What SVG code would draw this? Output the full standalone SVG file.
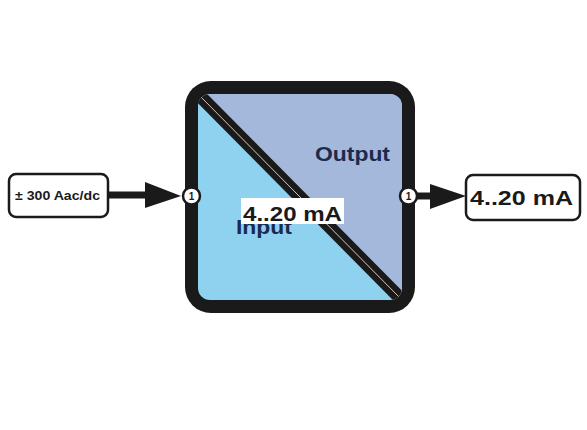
<svg xmlns="http://www.w3.org/2000/svg" width="587" height="430" viewBox="0 0 587 430">
<defs>
<style>
.port circle{fill:#fff;stroke:#1a1a1a;stroke-width:2.5}
.port text{font-family:"Liberation Sans",Arial,sans-serif;font-size:10px;font-weight:bold;fill:#1a1a1a;text-anchor:middle}
.lbl{font-family:"Liberation Sans",Arial,sans-serif;font-weight:bold;fill:#1a1a1a}
.zone{font-family:"Liberation Sans",Arial,sans-serif;font-size:21px;font-weight:bold;fill:#1c2a4e}
.conn line{stroke:#1a1a1a;stroke-width:7}
.conn path{fill:#1a1a1a}
</style>
<clipPath id="inner"><rect x="198" y="94" width="204" height="206" rx="12"/></clipPath>
</defs>
<rect width="587" height="430" fill="#fff"/>
<g id="converter">
<rect x="185" y="81" width="230" height="232" rx="26" fill="#1a1a1a"/>
<g clip-path="url(#inner)">
<rect x="198" y="94" width="204" height="206" fill="#8fd2f0"/>
<polygon points="198,94 402,94 402,300" fill="#a4b8dc"/>
<line x1="196" y1="92" x2="404" y2="302" stroke="#1a1a1a" stroke-width="13"/>
<line x1="196" y1="92" x2="404" y2="302" stroke="#d9c7b8" stroke-width="1"/>
</g>
<text class="zone" x="315" y="161" textLength="75" lengthAdjust="spacingAndGlyphs">Output</text>
<text class="zone" x="236" y="234" textLength="56" lengthAdjust="spacingAndGlyphs">Input</text>
<rect x="241" y="198" width="103" height="26" fill="#fff"/>
<text class="lbl" x="243" y="221" font-size="20" textLength="99" lengthAdjust="spacingAndGlyphs">4..20 mA</text>
</g>
<g id="input-source">
<rect x="9" y="174" width="99" height="43" rx="7" fill="#fff" stroke="#1a1a1a" stroke-width="2.5"/>
<text class="lbl" x="15" y="200" font-size="13" textLength="85" lengthAdjust="spacingAndGlyphs">± 300 Aac/dc</text>
</g>
<g id="output-sink">
<rect x="466" y="175" width="114" height="45" rx="7" fill="#fff" stroke="#1a1a1a" stroke-width="2.5"/>
<text class="lbl" x="470" y="205" font-size="21" textLength="103" lengthAdjust="spacingAndGlyphs">4..20 mA</text>
</g>
<g id="connectors" class="conn">
<line x1="108" y1="195" x2="150" y2="195"/>
<path d="M145,182 L181,196 L145,208 Z"/>
<line x1="414" y1="196" x2="436" y2="196"/>
<path d="M430,184 L466,196 L430,209 Z"/>
</g>
<g id="port-in" class="port"><circle cx="191.5" cy="196" r="8.5"/><text x="191.5" y="199.5">1</text></g>
<g id="port-out" class="port"><circle cx="408.5" cy="196" r="8.5"/><text x="408.5" y="199.5">1</text></g>
</svg>
